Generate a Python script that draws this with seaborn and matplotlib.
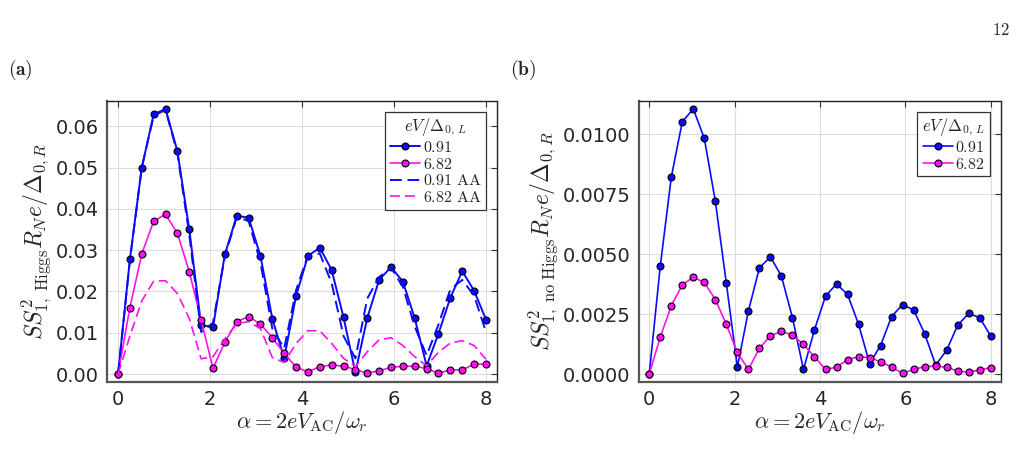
import numpy as np
import pandas as pd
import matplotlib
matplotlib.use("Agg")
import matplotlib.pyplot as plt
import seaborn as sns

# alpha grid: 32 points from 0 to 8
alpha = np.linspace(0, 8, 32)

# panel (a): with Higgs
higgs_091 = [0.0, 0.0278, 0.0500, 0.0629, 0.0642, 0.0540, 0.0351, 0.0119, 0.0113, 0.0290,
             0.0383, 0.0379, 0.0286, 0.0134, 0.0038, 0.0189, 0.0286, 0.0306, 0.0252, 0.0137,
             0.0004, 0.0136, 0.0228, 0.0259, 0.0224, 0.0135, 0.0020, 0.0098, 0.0185, 0.0249,
             0.0202, 0.0132]
higgs_682 = [0.0, 0.0161, 0.0291, 0.0370, 0.0387, 0.0341, 0.0248, 0.0131, 0.0014, 0.0077,
             0.0127, 0.0139, 0.0121, 0.0088, 0.0050, 0.0017, 0.0005, 0.0018, 0.0022, 0.0019,
             0.0011, 0.0002, 0.0008, 0.0016, 0.0019, 0.0019, 0.0013, 0.0002, 0.0010, 0.0010,
             0.0024, 0.0024]
higgs_091_aa = [0.0, 0.0275, 0.0500, 0.0625, 0.0640, 0.0535, 0.0338, 0.0102, 0.0124, 0.0285,
                0.0380, 0.0371, 0.0270, 0.0110, 0.0062, 0.0203, 0.0288, 0.0292, 0.0220, 0.0092,
                0.0038, 0.0183, 0.0235, 0.0258, 0.0211, 0.0115, 0.0045, 0.0120, 0.0205, 0.0228,
                0.0190, 0.0102]
higgs_682_aa = [0.0, 0.0092, 0.0177, 0.0225, 0.0226, 0.0195, 0.0135, 0.0037, 0.0042, 0.0085,
                0.0122, 0.0127, 0.0110, 0.0040, 0.0028, 0.0074, 0.0105, 0.0105, 0.0074, 0.0038,
                0.0018, 0.0054, 0.0083, 0.0088, 0.0069, 0.0042, 0.0020, 0.0053, 0.0075, 0.0081,
                0.0069, 0.0036]

# panel (b): no Higgs
nohiggs_091 = [0.0, 0.00450, 0.00821, 0.01053, 0.01106, 0.00983, 0.00721, 0.00378, 0.00029,
               0.00263, 0.00443, 0.00489, 0.00408, 0.00235, 0.00019, 0.00185, 0.00325, 0.00376,
               0.00332, 0.00208, 0.00044, 0.00119, 0.00240, 0.00290, 0.00267, 0.00169, 0.00037,
               0.00100, 0.00204, 0.00253, 0.00235, 0.00158]
nohiggs_682 = [0.0, 0.00154, 0.00285, 0.00372, 0.00404, 0.00382, 0.00311, 0.00207, 0.00090,
               0.00019, 0.00107, 0.00160, 0.00178, 0.00163, 0.00124, 0.00072, 0.00019, 0.00029,
               0.00060, 0.00072, 0.00069, 0.00051, 0.00029, 0.00003, 0.00019, 0.00031, 0.00033,
               0.00028, 0.00013, 0.00007, 0.00018, 0.00026]

xticks = [0, 2, 4, 6, 8]
yticks_a = [0.0, 0.01, 0.02, 0.03, 0.04, 0.05, 0.06]
yticks_b = [0.0, 0.0025, 0.005, 0.0075, 0.01]

BLUE = "#0a0aff"
MAGENTA = "#ff10f0"

sns.set_theme(style="whitegrid")
plt.rcParams["font.family"] = ["DejaVu Sans"]
plt.rcParams["mathtext.fontset"] = "cm"

fig = plt.figure(figsize=(10.2, 4.65), dpi=100)
ax_a = fig.add_axes([107 / 1020, 1 - 382 / 465, 390 / 1020, 281 / 465])
ax_b = fig.add_axes([639 / 1020, 1 - 382 / 465, 362 / 1020, 281 / 465])

mk = dict(marker="o", markersize=5, markeredgecolor="black", markeredgewidth=0.8)

sns.lineplot(x=alpha, y=higgs_091, ax=ax_a, color=BLUE, lw=1.4, label=r"$\mathrm{0.91}$", **mk)
sns.lineplot(x=alpha, y=higgs_682, ax=ax_a, color=MAGENTA, lw=1.2, label=r"$\mathrm{6.82}$", **mk)
sns.lineplot(x=alpha, y=higgs_091_aa, ax=ax_a, color=BLUE, lw=1.4, dashes=(6, 3),
             label=r"$\mathrm{0.91\ AA}$")
sns.lineplot(x=alpha, y=higgs_682_aa, ax=ax_a, color=MAGENTA, lw=1.2, dashes=(6, 3),
             label=r"$\mathrm{6.82\ AA}$")

sns.lineplot(x=alpha, y=nohiggs_091, ax=ax_b, color=BLUE, lw=1.2, label=r"$\mathrm{0.91}$", **mk)
sns.lineplot(x=alpha, y=nohiggs_682, ax=ax_b, color=MAGENTA, lw=1.2, label=r"$\mathrm{6.82}$", **mk)

for ax, yt, fmt, ymax in [(ax_a, yticks_a, "{:.2f}", max(higgs_091)),
                          (ax_b, yticks_b, "{:.4f}", max(nohiggs_091))]:
    ax.set_facecolor("white")
    ax.set_xlim(-0.24, 8.24)
    ax.set_ylim(-0.03 * ymax, 1.03 * ymax)
    ax.set_xticks(xticks)
    ax.set_xticklabels([str(t) for t in xticks])
    ax.set_yticks(yt)
    ax.set_yticklabels([fmt.format(t) for t in yt])
    ax.grid(True, color="#dcdcdc", lw=0.8)
    ax.tick_params(axis="both", labelsize=14, direction="in", length=4, width=0.8,
                   color="#333333", top=True, right=True, pad=6)
    for side in ["top", "right"]:
        ax.spines[side].set_color("#222222")
        ax.spines[side].set_linewidth(1.0)
    for side in ["left", "bottom"]:
        ax.spines[side].set_color("#555555")
        ax.spines[side].set_linewidth(1.6)
    ax.set_xlabel(r"$\alpha = 2eV_{\mathrm{AC}}/\omega_r$", fontsize=16, labelpad=0)
    leg = ax.legend(title=r"$eV/\Delta_{0,\,L}$", loc="upper right", fontsize=11.5,
                    title_fontsize=12, frameon=True, fancybox=False, framealpha=1,
                    edgecolor="#333333", borderpad=0.3, labelspacing=0.1,
                    handlelength=1.9, handletextpad=0.15, borderaxespad=0.7)
    leg.get_frame().set_linewidth(0.9)

ax_a.set_ylabel(r"$SS^2_{1,\ \mathrm{Higgs}}R_N e/\Delta_{0,R}$", fontsize=17, labelpad=2)
ax_b.set_ylabel(r"$SS^2_{1,\ \mathrm{no\ Higgs}}R_N e/\Delta_{0,R}$", fontsize=17, labelpad=2)

fig.text(8 / 1020, 1 - 70 / 465, r"$\mathbf{(a)}$", fontsize=14, va="center")
fig.text(510 / 1020, 1 - 70 / 465, r"$\mathbf{(b)}$", fontsize=14, va="center")
fig.text(1010 / 1020, 1 - 30 / 465, r"$\mathrm{12}$", fontsize=12, ha="right", va="center")

fig.savefig("out.png", dpi=100)
